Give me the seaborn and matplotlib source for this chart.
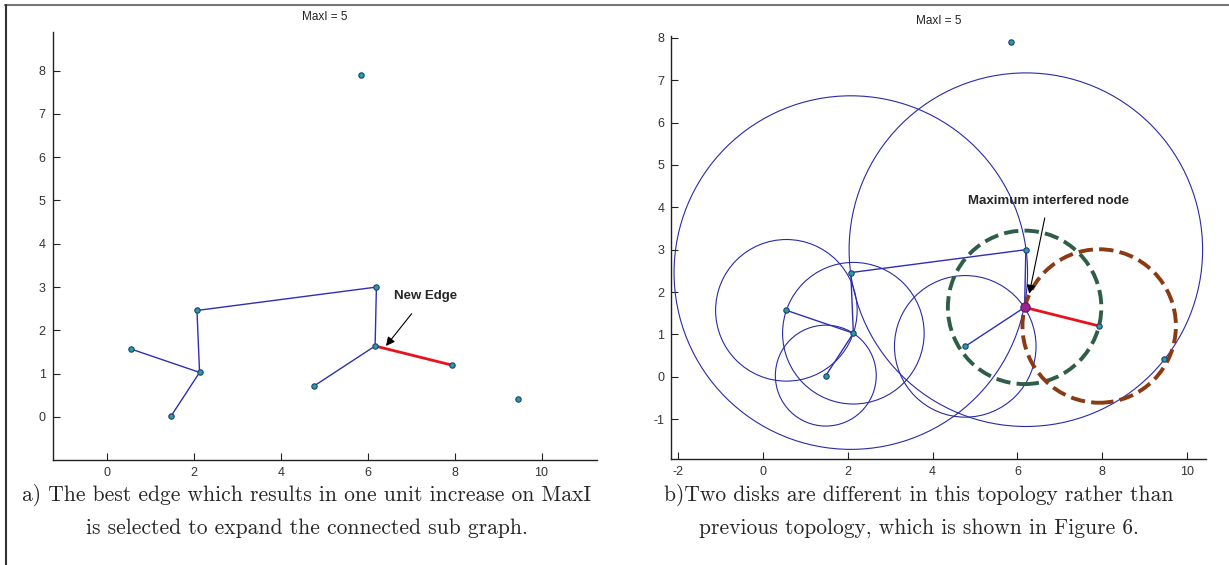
#!/usr/bin/env python3
"""Two-panel topology figure: new edge selection and interference disks."""

import matplotlib.pyplot as plt
import pandas as pd
import seaborn as sns
from matplotlib.lines import Line2D
from matplotlib.patches import Circle

# node coordinates
node_x = [5.85, 6.20, 2.07, 0.55, 2.13, 1.48, 4.77, 6.17, 7.93, 9.47]
node_y = [7.90, 3.00, 2.46, 1.57, 1.03, 0.03, 0.72, 1.64, 1.20, 0.41]

# tree edges (node index pairs) and the newly added edge
edges = [(3, 4), (5, 4), (4, 2), (2, 1), (1, 7), (6, 7)]
new_edge = (7, 8)

# solid disks in panel b: centre node index and radius
disk_nodes = [2, 1, 3, 4, 5, 6]
disk_radii = [4.17, 4.17, 1.67, 1.67, 1.19, 1.67]
# dashed disks: the node with maximum interference and the new neighbour
dashed_nodes = [7, 8]
dashed_radii = [1.81, 1.81]
dashed_colors = ["#2e5e47", "#8a3b14"]

max_node = 7
title = "MaxI = 5"
caption_a = ["a) The best edge which results in one unit increase on MaxI",
             "is selected to expand the connected sub graph."]
caption_b = ["b)Two disks are different in this topology rather than",
             "previous topology, which is shown in Figure 6."]

W, H = 1229, 565


def edge_frame(pairs):
    rows = []
    for k, (a, b) in enumerate(pairs):
        rows.append({"x": node_x[a], "y": node_y[a], "edge": k})
        rows.append({"x": node_x[b], "y": node_y[b], "edge": k})
    return pd.DataFrame(rows)


def style_axes(ax, xlim, ylim, xticks, yticks):
    ax.set_xlim(*xlim)
    ax.set_ylim(*ylim)
    ax.set_xticks(xticks)
    ax.set_yticks(yticks)
    ax.set_xticklabels([str(t) for t in xticks])
    ax.set_yticklabels([str(t) for t in yticks])
    ax.set_xlabel("")
    ax.set_ylabel("")
    for side in ("top", "right"):
        ax.spines[side].set_visible(False)
    for side in ("left", "bottom"):
        ax.spines[side].set_color("#222222")
        ax.spines[side].set_linewidth(1.0)
    ax.tick_params(bottom=True, left=True, top=False, right=False,
                   direction="in", length=5, width=0.8, colors="#222222",
                   labelsize=9, labelcolor="#333333", pad=5)
    ax.set_title(title, fontsize=8.5, color="#222222", pad=8)
    ax.grid(False)


def draw_graph(ax, special):
    sns.lineplot(data=edge_frame(edges), x="x", y="y", units="edge",
                 estimator=None, sort=False, color="#2f2fb4", lw=1.0, ax=ax)
    sns.lineplot(data=edge_frame([new_edge]), x="x", y="y", units="edge",
                 estimator=None, sort=False, color="#e8121c", lw=2.0, ax=ax)
    nodes = pd.DataFrame({"x": node_x, "y": node_y})
    sns.scatterplot(data=nodes, x="x", y="y", s=15, color="#2a9d96",
                    edgecolor="#1f3f7a", linewidth=0.8, zorder=5, ax=ax)
    if special:
        ax.scatter([node_x[max_node]], [node_y[max_node]], s=45,
                   color="#a0208c", edgecolor="#5a1a70", lw=0.8, zorder=6)


def main():
    sns.set_theme(style="white")
    plt.rcParams["font.family"] = ["Liberation Sans", "DejaVu Sans"]

    fig = plt.figure(figsize=(W / 100, H / 100), dpi=100)

    # panel a
    ax1 = fig.add_axes([52.7 / W, 1 - 460.3 / H, 544 / W, 428.7 / H])
    draw_graph(ax1, special=False)
    style_axes(ax1, (-1.25, 11.27), (-1.0, 8.9), list(range(0, 11, 2)),
               list(range(0, 9)))
    ax1.annotate("New Edge", xy=(6.42, 1.64), xytext=(7.34, 2.8),
                 ha="center", va="center", fontsize=9.5, fontweight="bold",
                 arrowprops=dict(arrowstyle="-|>", color="black", lw=0.8,
                                 mutation_scale=13, shrinkA=8, shrinkB=0))

    # panel b
    ax2 = fig.add_axes([671.3 / W, 1 - 458.7 / H, (1206 - 671.3) / W,
                        (458.7 - 35.6) / H])
    for n, r in zip(disk_nodes, disk_radii):
        ax2.add_patch(Circle((node_x[n], node_y[n]), r, fill=False,
                             ec="#2a2aa8", lw=0.8))
    for n, r, c in zip(dashed_nodes, dashed_radii, dashed_colors):
        ax2.add_patch(Circle((node_x[n], node_y[n]), r, fill=False,
                             ec=c, lw=2.8, ls="--", zorder=3))
    draw_graph(ax2, special=True)
    style_axes(ax2, (-2.165, 10.45), (-1.93, 8.05), list(range(-2, 11, 2)),
               list(range(-1, 9)))
    ax2.annotate("Maximum interfered node", xy=(6.28, 1.96), xytext=(6.73, 4.16),
                 ha="center", va="center", fontsize=9.5, fontweight="bold",
                 arrowprops=dict(arrowstyle="-|>", color="black", lw=0.8,
                                 mutation_scale=13, shrinkA=6, shrinkB=0))

    # captions
    for cx, lines in ((307, caption_a), (919, caption_b)):
        for cy, line in zip((495, 528), lines):
            fig.text(cx / W, 1 - cy / H, line, ha="center", va="center",
                     fontsize=15.5, family=["cmr10", "DejaVu Serif"])

    # frame lines of the surrounding table
    fig.add_artist(Line2D([5 / W, 1], [1 - 5 / H, 1 - 5 / H], color="#767676",
                          lw=1.5, transform=fig.transFigure))
    fig.add_artist(Line2D([5.5 / W, 5.5 / W], [0, 1 - 5 / H], color="#333333",
                          lw=1.5, transform=fig.transFigure))

    fig.savefig("out.png", dpi=100)
    plt.close(fig)


if __name__ == "__main__":
    main()
